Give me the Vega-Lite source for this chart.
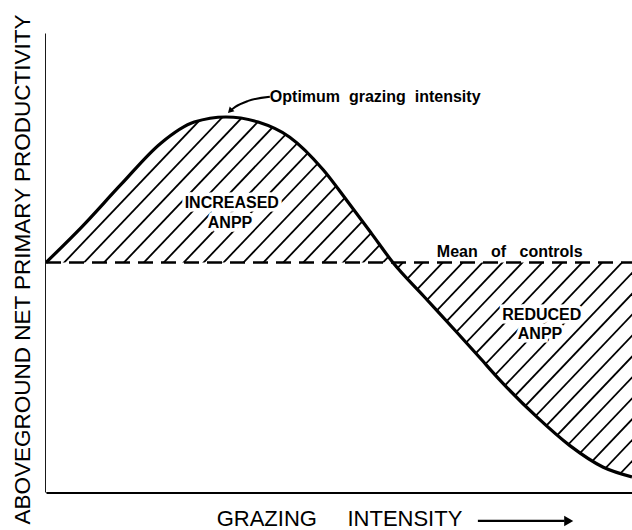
{
  "$schema": "https://vega.github.io/schema/vega-lite/v6.json",
  "autosize": {"type": "none"},
  "width": 586,
  "height": 459,
  "padding": {"left": 46, "top": 33, "right": 0, "bottom": 38},
  "background": "white",
  "config": {
    "view": {"stroke": null},
    "font": "Liberation Sans",
    "axis": {"domainColor": "black", "domainWidth": 2.8, "ticks": false, "labels": false, "grid": false, "titleColor": "black", "titleFontWeight": "normal", "zindex": 1}
  },
  "datasets": {
    "curve": [
      {"g": 0, "p": 50}, {"g": 6, "p": 57.6}, {"g": 12.8, "p": 67}, {"g": 19.6, "p": 76},
      {"g": 25.3, "p": 80.6}, {"g": 30.7, "p": 81.7}, {"g": 36.2, "p": 80.6}, {"g": 41.6, "p": 77.3},
      {"g": 47.3, "p": 70.2}, {"g": 51.4, "p": 63.4}, {"g": 55.5, "p": 56.4}, {"g": 59.2, "p": 50},
      {"g": 64.5, "p": 42.6}, {"g": 70.1, "p": 34.8}, {"g": 74, "p": 29.3}, {"g": 77.3, "p": 24.6},
      {"g": 83.8, "p": 16.3}, {"g": 89.4, "p": 10.1}, {"g": 95.1, "p": 5.4}, {"g": 100, "p": 3.3}
    ],
    "hatch": [
      {"x0": -58, "x1": 16.6}, {"x0": -54.6, "x1": 20}, {"x0": -51.2, "x1": 23.4}, {"x0": -47.8, "x1": 26.8},
      {"x0": -44.4, "x1": 30.2}, {"x0": -41, "x1": 33.6}, {"x0": -37.6, "x1": 37}, {"x0": -34.2, "x1": 40.4},
      {"x0": -30.8, "x1": 43.8}, {"x0": -27.4, "x1": 47.2}, {"x0": -24, "x1": 50.6}, {"x0": -20.6, "x1": 54},
      {"x0": -17.2, "x1": 57.4}, {"x0": -13.8, "x1": 60.8}, {"x0": -10.4, "x1": 64.2}, {"x0": -7, "x1": 67.6},
      {"x0": -3.6, "x1": 71}, {"x0": -0.2, "x1": 74.4}, {"x0": 3.2, "x1": 77.8}, {"x0": 6.6, "x1": 81.2},
      {"x0": 10, "x1": 84.6}, {"x0": 13.4, "x1": 88}, {"x0": 16.8, "x1": 91.4}, {"x0": 20.2, "x1": 94.8},
      {"x0": 23.6, "x1": 98.2}, {"x0": 27, "x1": 101.6}, {"x0": 30.4, "x1": 105}, {"x0": 33.8, "x1": 108.4},
      {"x0": 37.2, "x1": 111.8}, {"x0": 40.6, "x1": 115.2}, {"x0": 44, "x1": 118.6}, {"x0": 47.4, "x1": 122},
      {"x0": 50.8, "x1": 125.4}, {"x0": 54.2, "x1": 128.8}, {"x0": 57.6, "x1": 132.2}, {"x0": 61, "x1": 135.6},
      {"x0": 64.4, "x1": 139}, {"x0": 67.8, "x1": 142.4}, {"x0": 71.2, "x1": 145.8}, {"x0": 74.6, "x1": 149.2},
      {"x0": 78, "x1": 152.6}, {"x0": 81.4, "x1": 156}, {"x0": 84.8, "x1": 159.4}, {"x0": 88.2, "x1": 162.8},
      {"x0": 91.6, "x1": 166.2}, {"x0": 95, "x1": 169.6}, {"x0": 98.4, "x1": 173}
    ],
    "labels": [
      {"text": "INCREASED", "g": 31.7, "p": 63.0},
      {"text": "ANPP", "g": 31.4, "p": 58.6},
      {"text": "REDUCED", "g": 84.6, "p": 38.6},
      {"text": "ANPP", "g": 84.3, "p": 34.4}
    ],
    "notes": [
      {"text": "Optimum\u00a0\u00a0grazing\u00a0\u00a0intensity", "g": 38.2, "p": 86.1},
      {"text": "Mean\u00a0\u00a0\u00a0of\u00a0\u00a0\u00a0controls", "g": 66.7, "p": 52.3}
    ],
    "pointer": [
      {"g": 38.2, "p": 86.1}, {"g": 34.5, "p": 85.2}, {"g": 32.3, "p": 83.9}, {"g": 31.4, "p": 83.0}
    ],
    "xarrow": [
      {"g": 73.7, "p": -6.3}, {"g": 88.5, "p": -6.3}
    ]
  },
  "layer": [
    {
      "data": {"name": "hatch"},
      "mark": {"type": "rule", "clip": true, "color": "black", "strokeWidth": 1.8},
      "encoding": {
        "x": {"field": "x0", "type": "quantitative", "scale": {"domain": [0, 100]},
              "axis": {"title": "GRAZING\u00a0\u00a0\u00a0\u00a0\u00a0INTENSITY", "titleFontSize": 22, "titlePadding": 16}},
        "x2": {"field": "x1"},
        "y": {"datum": 0, "type": "quantitative", "scale": {"domain": [0, 100]},
              "axis": {"title": "ABOVEGROUND NET PRIMARY PRODUCTIVITY", "titleFontSize": 22.5, "titlePadding": 12, "titleY": 236}},
        "y2": {"datum": 100}
      }
    },
    {
      "data": {"name": "curve"},
      "transform": [{"filter": "datum.g <= 59.2"}],
      "mark": {"type": "area", "clip": true, "color": "white", "interpolate": "monotone", "opacity": 1},
      "encoding": {
        "x": {"field": "g", "type": "quantitative"},
        "y": {"field": "p", "type": "quantitative"},
        "y2": {"datum": 100}
      }
    },
    {
      "data": {"values": [{}]},
      "mark": {"type": "rect", "clip": true, "color": "white"},
      "encoding": {
        "x": {"datum": 0, "type": "quantitative"},
        "x2": {"datum": 59.6},
        "y": {"datum": 0, "type": "quantitative"},
        "y2": {"datum": 50}
      }
    },
    {
      "data": {"name": "curve"},
      "transform": [{"filter": "datum.g >= 59.2"}],
      "mark": {"type": "area", "clip": true, "color": "white", "interpolate": "monotone", "opacity": 1},
      "encoding": {
        "x": {"field": "g", "type": "quantitative"},
        "y": {"field": "p", "type": "quantitative"},
        "y2": {"datum": 0}
      }
    },
    {
      "data": {"values": [{}]},
      "mark": {"type": "rect", "clip": true, "color": "white"},
      "encoding": {
        "x": {"datum": 58.8, "type": "quantitative"},
        "x2": {"datum": 101},
        "y": {"datum": 50, "type": "quantitative"},
        "y2": {"datum": 101}
      }
    },
    {
      "data": {"name": "labels"},
      "mark": {"type": "text", "fontSize": 16, "fontWeight": "bold", "align": "center", "baseline": "middle", "stroke": "white", "strokeWidth": 7, "fill": "white"},
      "encoding": {
        "x": {"field": "g", "type": "quantitative"},
        "y": {"field": "p", "type": "quantitative"},
        "text": {"field": "text"}
      }
    },
    {
      "data": {"name": "labels"},
      "mark": {"type": "text", "fontSize": 16, "fontWeight": "bold", "align": "center", "baseline": "middle", "color": "black"},
      "encoding": {
        "x": {"field": "g", "type": "quantitative"},
        "y": {"field": "p", "type": "quantitative"},
        "text": {"field": "text"}
      }
    },
    {
      "data": {"values": [{}]},
      "mark": {"type": "rule", "color": "black", "strokeWidth": 2.6, "strokeDash": [15, 8]},
      "encoding": {
        "x": {"datum": 0, "type": "quantitative"},
        "x2": {"datum": 100},
        "y": {"datum": 50, "type": "quantitative"}
      }
    },
    {
      "data": {"name": "curve"},
      "mark": {"type": "line", "color": "black", "strokeWidth": 3.2, "interpolate": "monotone", "clip": true},
      "encoding": {
        "x": {"field": "g", "type": "quantitative"},
        "y": {"field": "p", "type": "quantitative"}
      }
    },
    {
      "data": {"name": "pointer"},
      "mark": {"type": "line", "color": "black", "strokeWidth": 2, "interpolate": "monotone"},
      "encoding": {
        "x": {"field": "g", "type": "quantitative"},
        "y": {"field": "p", "type": "quantitative"},
        "order": {"field": "g", "sort": "descending"}
      }
    },
    {
      "data": {"values": [{"g": 31.4, "p": 83.0}]},
      "mark": {"type": "point", "shape": "triangle-up", "filled": true, "color": "black", "size": 45, "angle": 225, "opacity": 1},
      "encoding": {
        "x": {"field": "g", "type": "quantitative"},
        "y": {"field": "p", "type": "quantitative"}
      }
    },
    {
      "data": {"name": "notes"},
      "mark": {"type": "text", "fontSize": 16, "fontWeight": "bold", "align": "left", "baseline": "middle", "color": "black"},
      "encoding": {
        "x": {"field": "g", "type": "quantitative"},
        "y": {"field": "p", "type": "quantitative"},
        "text": {"field": "text"}
      }
    },
    {
      "data": {"name": "xarrow"},
      "mark": {"type": "line", "color": "black", "strokeWidth": 2.2},
      "encoding": {
        "x": {"field": "g", "type": "quantitative"},
        "y": {"field": "p", "type": "quantitative"}
      }
    },
    {
      "data": {"values": [{"g": 89.2, "p": -6.3}]},
      "mark": {"type": "point", "shape": "triangle-right", "filled": true, "color": "black", "size": 110, "opacity": 1},
      "encoding": {
        "x": {"field": "g", "type": "quantitative"},
        "y": {"field": "p", "type": "quantitative"}
      }
    }
  ]
}
